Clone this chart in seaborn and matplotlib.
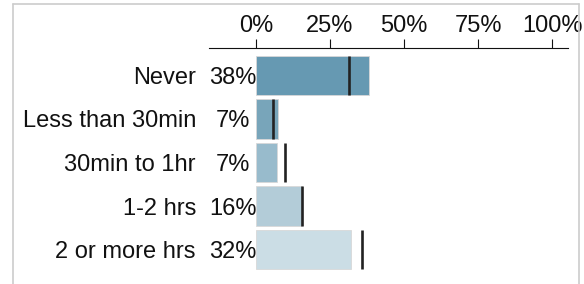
import matplotlib
matplotlib.use("Agg")
import matplotlib.pyplot as plt
from matplotlib.lines import Line2D
import seaborn as sns
import pandas as pd

categories = ["Never", "Less than 30min", "30min to 1hr", "1-2 hrs", "2 or more hrs"]
shares = [38.1, 7.3, 7.0, 15.6, 32.0]
benchmarks = [31.3, 5.6, 9.9, 15.6, 35.9]
bar_colors = ["#6699b2", "#78a5ba", "#98bbcc", "#b3ccd8", "#cbdde5"]
x_ticks = [0, 25, 50, 75, 100]
x_tick_labels = ["0%", "25%", "50%", "75%", "100%"]

sns.set_theme(style="white")
plt.rcParams["font.family"] = ["Liberation Sans", "DejaVu Sans"]

W, H = 584, 284
fig = plt.figure(figsize=(W / 100, H / 100), dpi=100)
ax_left, ax_right, ax_top = 209, 568, 48
ax = fig.add_axes([ax_left / W, 0, (ax_right - ax_left) / W, (H - ax_top) / H])

df = pd.DataFrame({"category": categories, "share": shares})
sns.barplot(data=df, x="share", y="category", hue="category", palette=bar_colors,
            orient="h", width=0.9, legend=False, ax=ax, saturation=1,
            edgecolor="#d8d8d8", linewidth=0.6)

for i, b in enumerate(benchmarks):
    ax.vlines(b, i - 0.45, i + 0.45, color="#222222", linewidth=1.9, zorder=5)

fs = 17
for i, s in enumerate(shares):
    ax.text(-7.8, i, f"{round(s)}%", ha="center", va="center_baseline",
            fontsize=fs, color="#111111")

ax.set_xlim(-15.9, 105.4)
ax.set_ylim(4.79, -0.63)
ax.set_xlabel("")
ax.set_ylabel("")

ax.xaxis.set_ticks_position("top")
ax.xaxis.set_label_position("top")
ax.set_xticks(x_ticks)
ax.set_xticklabels(x_tick_labels, fontsize=fs, color="#111111")
ax.tick_params(axis="x", which="both", top=True, bottom=False, direction="out",
               length=6.5, width=0.8, color="#111111", pad=1.5)
ax.tick_params(axis="y", left=False, length=0, pad=9.4, labelsize=fs, labelcolor="#111111")

for side in ["left", "right", "bottom"]:
    ax.spines[side].set_visible(False)
ax.spines["top"].set_visible(True)
ax.spines["top"].set_color("#111111")
ax.spines["top"].set_linewidth(0.8)
ax.set_facecolor("none")
ax.grid(False)

# light gray frame (left, top, right edges)
bx0, bx1, by = 12.5 / W, 579 / W, 1 - 3.5 / H
fig.add_artist(Line2D([bx0, bx0], [0, by], color="#cccccc", lw=1.2, transform=fig.transFigure))
fig.add_artist(Line2D([bx0, bx1], [by, by], color="#cccccc", lw=1.2, transform=fig.transFigure))
fig.add_artist(Line2D([bx1, bx1], [0, by], color="#cccccc", lw=1.2, transform=fig.transFigure))

fig.savefig("out.png", dpi=100)
